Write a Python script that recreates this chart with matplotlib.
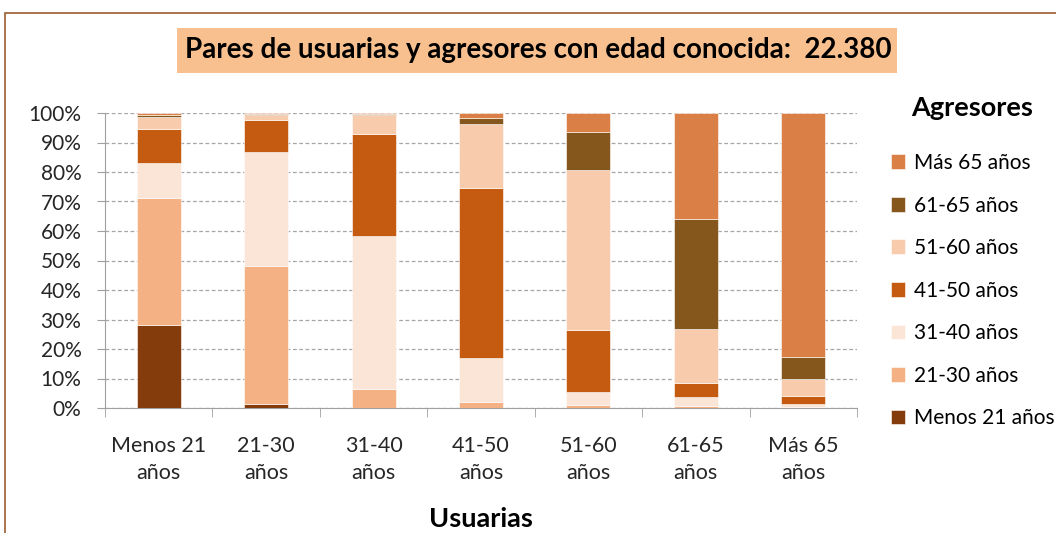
import matplotlib.pyplot as plt
import numpy as np
from matplotlib.patches import Rectangle

usuarias = ["Menos 21\naños", "21-30\naños", "31-40\naños", "41-50\naños",
            "51-60\naños", "61-65\naños", "Más 65\naños"]
agresores = ["Menos 21 años", "21-30 años", "31-40 años", "41-50 años",
             "51-60 años", "61-65 años", "Más 65 años"]

# % per agresor group (rows) for each usuaria group (columns)
menos21 = [28.3, 1.2, 0.0, 0.1, 0.1, 0.1, 0.1]
a21_30 = [42.9, 47.0, 6.6, 1.9, 1.0, 0.7, 0.3]
a31_40 = [11.9, 38.5, 51.8, 14.9, 4.2, 2.9, 0.8]
a41_50 = [11.6, 10.8, 34.6, 57.6, 21.0, 4.9, 3.0]
a51_60 = [3.9, 1.9, 6.2, 21.8, 54.3, 18.2, 5.8]
a61_65 = [0.6, 0.1, 0.3, 2.0, 12.8, 37.4, 7.3]
mas65 = [0.8, 0.5, 0.5, 1.7, 6.6, 35.8, 82.7]

series = [menos21, a21_30, a31_40, a41_50, a51_60, a61_65, mas65]
colors = ["#843C0C", "#F4B183", "#FBE5D6", "#C55A11", "#F8CBAD", "#85571C", "#DA8046"]

plt.rcParams['font.family'] = ['Lato', 'DejaVu Sans']

fig = plt.figure(figsize=(10.56, 5.33), dpi=100)
W, H = 1056, 533
ax = fig.add_axes([105 / W, 1 - 408 / H, 752 / W, 295 / H])

x = np.arange(len(usuarias))
bottom = np.zeros(len(usuarias))
handles = []
for vals, col, name in zip(series, colors, agresores):
    v = np.array(vals) / 100.0
    b = ax.bar(x, v, 0.41, bottom=bottom, color=col, edgecolor='white',
               linewidth=0.4, label=name, zorder=3)
    handles.append(b)
    bottom += v

ax.set_xlim(-0.5, 6.5)
ax.set_ylim(0, 1)
ax.set_yticks(np.arange(0, 1.01, 0.1))
ax.set_yticklabels([f"{i}%" for i in range(0, 101, 10)], fontsize=15, color='#262626')
ax.set_xticks(x)
ax.set_xticklabels(usuarias, fontsize=15.5, linespacing=1.45, color='#262626')
ax.set_xticks(np.arange(-0.5, 7, 1), minor=True)
ax.tick_params(axis='x', which='major', length=0, pad=20)
ax.tick_params(axis='x', which='minor', length=6.5, color='#A0A0A0')
ax.tick_params(axis='y', length=6, color='#A0A0A0', pad=11)
ax.yaxis.grid(True, linestyle=(0, (3, 2)), color='#A6A6A6', linewidth=0.9, zorder=0)
for s in ['top', 'right']:
    ax.spines[s].set_visible(False)
ax.spines['left'].set_color('#A0A0A0')
ax.spines['bottom'].set_color('#A0A0A0')

ax.set_xlabel("Usuarias", fontsize=19.5, fontweight='bold', labelpad=17)

# title box
fig.patches.append(Rectangle((177 / W, 1 - 73 / H), 720 / W, 45 / H, transform=fig.transFigure,
                             facecolor='#F9C08F', edgecolor='none'))
fig.text(538 / W, 1 - 50 / H, "Pares de usuarias y agresores con edad conocida:  22.380",
         ha='center', va='center', fontsize=20, fontweight='bold')

leg = fig.legend(handles[::-1], agresores[::-1], loc='upper left',
                 bbox_to_anchor=(872 / W, 1 - 77 / H), frameon=False,
                 fontsize=15, title="Agresores", handlelength=0.7, handleheight=0.7,
                 handletextpad=0.4, labelspacing=1.08)
leg.get_title().set_fontsize(19.5)
leg.get_title().set_fontweight('bold')
leg._legend_box.sep = 24

# outer chart border
fig.patches.append(Rectangle((5 / W, -0.1), 1.2, 1 - 13 / H + 0.1, transform=fig.transFigure,
                             fill=False, edgecolor='#9C5B2E', linewidth=1.2))

fig.savefig("out.png", dpi=100)
